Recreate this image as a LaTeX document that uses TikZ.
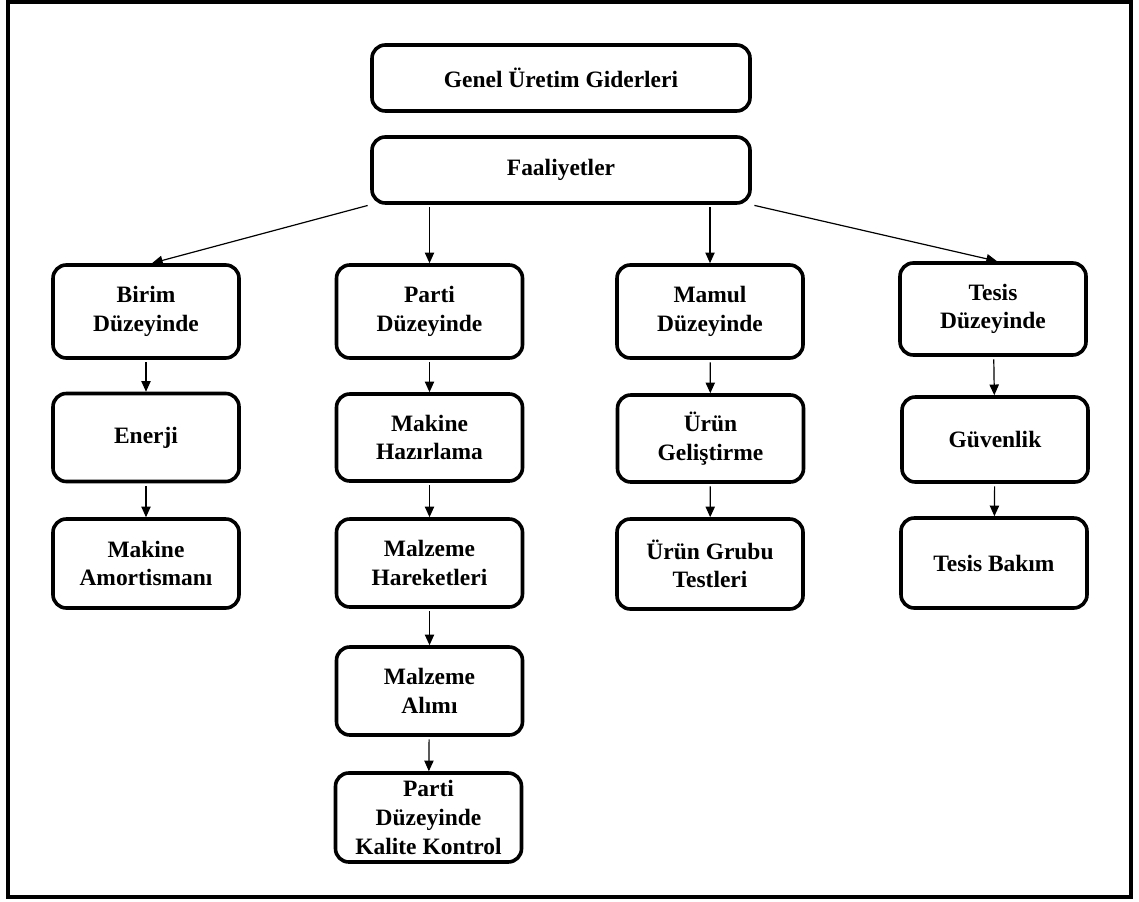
\documentclass[tikz,border=0pt]{standalone}
\usepackage{fontspec}
\setmainfont{Liberation Serif}
\usetikzlibrary{arrows.meta}
\begin{document}
\begin{tikzpicture}[x=0.75pt,y=-0.75pt,
  box/.style={draw, line width=2.7pt, rounded corners=10pt, align=center, inner sep=0pt,
    minimum width=139.5pt, font=\bfseries\fontsize{17.6}{21.4}\selectfont},
  h/.style={minimum height=#1*0.75pt},
  arr/.style={-{Triangle[length=8pt,width=7pt]}, line width=0.9pt, shorten <=2pt},
  frame/.style={draw, line width=2.3pt}]
\useasboundingbox (0,0) rectangle (1139,902);
\draw[frame] (8,2) rectangle (1131,897);

\node[box, minimum width=283.5pt, h=66] (gug) at (561,78) {Genel Üretim Giderleri};
\node[box, minimum width=283.5pt, h=66] (faal) at (561,170) {Faaliyetler};

\node[box, h=93] (birim) at (146,311.5) {Birim\\Düzeyinde};
\node[box, h=88] (enerji) at (146,437.5) {Enerji};
\node[box, h=89] (makam) at (146,563.5) {Makine\\Amortismanı};

\node[box, h=93] (parti) at (429.5,311.5) {Parti\\Düzeyinde};
\node[box, h=87] (makhaz) at (429.5,437.5) {Makine\\Hazırlama};
\node[box, h=88] (malhar) at (429.5,563) {Malzeme\\Hareketleri};
\node[box, h=88] (malal) at (429.5,691) {Malzeme\\Alımı};
\node[box, h=89] (kalite) at (428.5,817.5) {Parti\\Düzeyinde\\Kalite Kontrol};

\node[box, h=93] (mamul) at (710,311.5) {Mamul\\Düzeyinde};
\node[box, h=87] (urungel) at (710.5,438.5) {Ürün\\Geliştirme};
\node[box, h=90] (urungrp) at (710,564) {Ürün Grubu\\Testleri};

\node[box, h=92] (tesis) at (993,309) {Tesis\\Düzeyinde};
\node[box, h=85] (guv) at (995,439.5) {Güvenlik};
\node[box, h=90] (bakim) at (994,563) {Tesis Bakım};

\draw[arr] (faal.south west) -- ([xshift=4.5pt]birim.north);
\draw[arr] (faal.south -| parti.north) -- (parti.north);
\draw[arr] (faal.south -| mamul.north) -- (mamul.north);
\draw[arr] (faal.south east) -- ([xshift=3pt]tesis.north);

\draw[arr] (birim) -- (enerji);
\draw[arr] (enerji) -- (makam);
\draw[arr] (parti) -- (makhaz);
\draw[arr] (makhaz) -- (malhar);
\draw[arr] (malhar) -- (malal);
\draw[arr] (malal) -- (kalite);
\draw[arr] (mamul) -- (urungel);
\draw[arr] (urungel) -- (urungrp);
\draw[arr] (tesis) -- (guv);
\draw[arr] (guv) -- (bakim);
\end{tikzpicture}
\end{document}
